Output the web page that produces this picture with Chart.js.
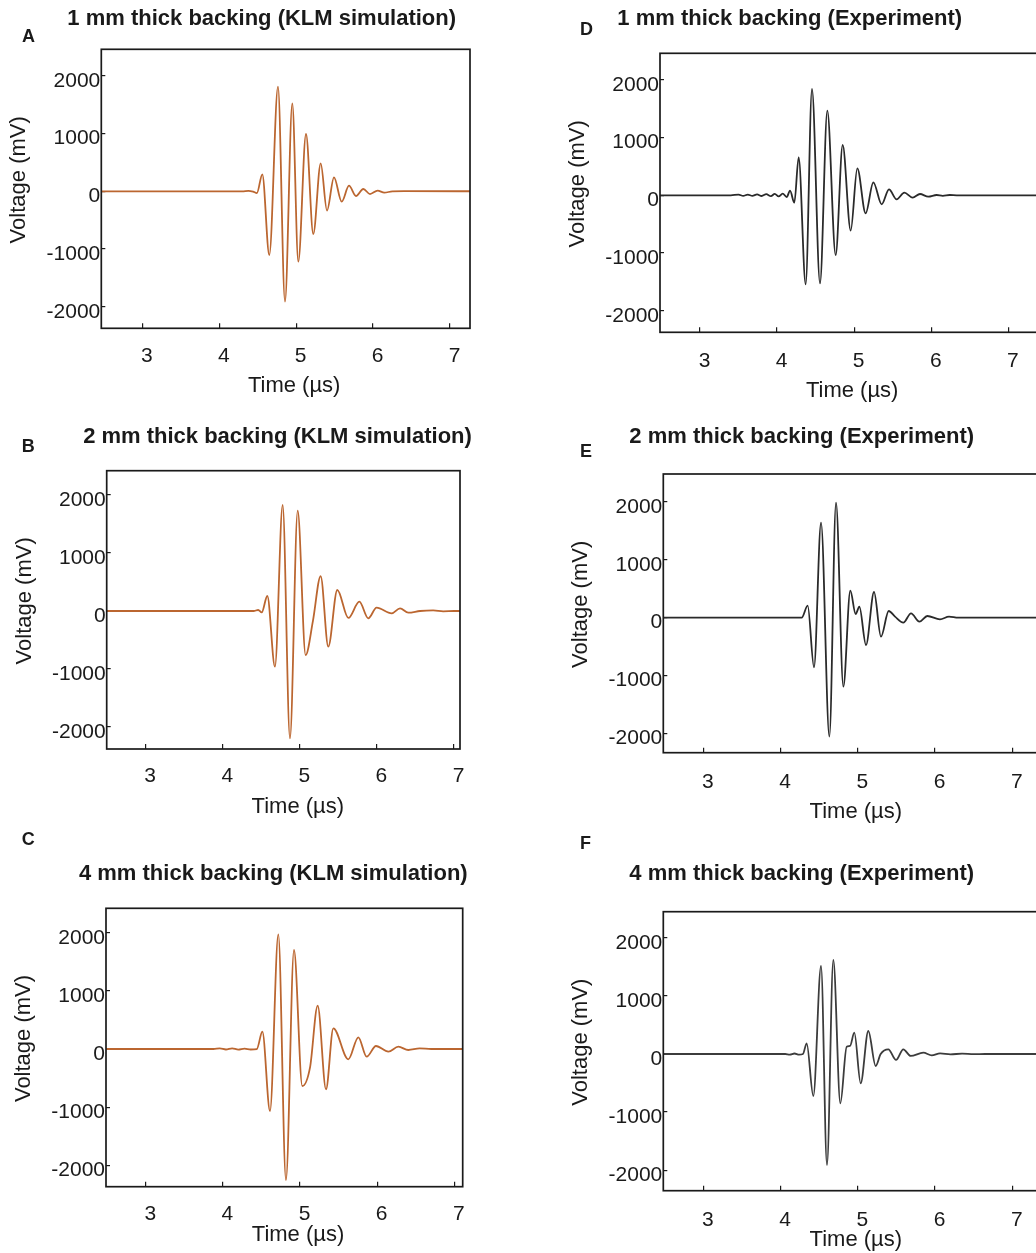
<!DOCTYPE html>
<html>
<head>
<meta charset="utf-8">
<title>Backing thickness pulse responses</title>
<script src="https://cdn.jsdelivr.net/npm/chart.js@4.4.1/dist/chart.umd.min.js"></script>
<style>
  html, body { margin: 0; padding: 0; background: #fff; overflow: hidden; }
  body { position: relative; width: 1036px; height: 1253px; }
  .panel { position: absolute; }
</style>
</head>
<body>
<div class="panel" style="left:0;top:0"><canvas id="panelA" width="520" height="410"></canvas></div>
<div class="panel" style="left:0;top:410px"><canvas id="panelB" width="520" height="420"></canvas></div>
<div class="panel" style="left:0;top:830px"><canvas id="panelC" width="520" height="423"></canvas></div>
<div class="panel" style="left:520px;top:0"><canvas id="panelD" width="540" height="410"></canvas></div>
<div class="panel" style="left:520px;top:410px"><canvas id="panelE" width="540" height="420"></canvas></div>
<div class="panel" style="left:520px;top:830px"><canvas id="panelF" width="540" height="423"></canvas></div>

<script>
const FONT = '"Liberation Sans", Arial, sans-serif';
const INK = '#1a1a1a';
const SIM_COLOR = '#bb6630';
const EXP_COLOR = '#2a2a2a';

const xTicks = [3, 4, 5, 6, 7];
const yTicks = [-2000, -1000, 0, 1000, 2000];

// KLM simulation, 1 mm backing (time in µs, voltage in mV)
const timeA = [2.3, 4.30, 4.38, 4.44, 4.49, 4.560, 4.651, 4.764, 4.855, 4.950, 5.028, 5.128, 5.223, 5.319, 5.401, 5.492, 5.592, 5.687, 5.778, 5.873, 5.960, 6.059, 6.146, 6.25, 6.40, 7.5];
const voltA = [0, 0, 8, -6, -30, 294, -1103, 1812, -1911, 1523, -1219, 992, -739, 484, -335, 242, -180, 97, -81, 40, -47, 11, -24, 0, 3, 0];

// KLM simulation, 2 mm backing
const timeB = [2.3, 4.40, 4.46, 4.505, 4.578, 4.677, 4.777, 4.872, 4.972, 5.075, 5.17, 5.270, 5.369, 5.486, 5.63, 5.772, 5.888, 5.996, 6.191, 6.30, 6.407, 6.56, 6.73, 6.86, 7.0, 7.5];
const voltB = [0, 0, 17, -25, 259, -960, 1828, -2195, 1730, -759, -170, 603, -615, 362, -120, 161, -126, 57, -40, 47, -29, 0, 10, -5, 0, 0];

// KLM simulation, 4 mm backing
const timeC = [2.3, 3.88, 3.96, 4.04, 4.12, 4.20, 4.28, 4.36, 4.44, 4.512, 4.611, 4.719, 4.818, 4.922, 5.030, 5.130, 5.229, 5.337, 5.432, 5.626, 5.756, 5.864, 5.985, 6.145, 6.275, 6.404, 6.55, 6.70, 7.5];
const voltC = [0, 0, 10, -8, 12, -10, 8, -8, 0, 298, -1067, 1974, -2255, 1704, -637, -316, 746, -694, 356, -178, 201, -132, 52, -46, 40, -17, 10, 0, 0];

// Measured, 1 mm backing
const timeD = [2.3, 3.40, 3.50, 3.56, 3.62, 3.68, 3.74, 3.80, 3.86, 3.92, 3.97, 4.02, 4.073, 4.125, 4.168, 4.224, 4.280, 4.371, 4.453, 4.557, 4.652, 4.760, 4.851, 4.955, 5.041, 5.149, 5.249, 5.357, 5.452, 5.551, 5.651, 5.759, 5.854, 5.962, 6.07, 6.15, 6.24, 6.33, 7.6];
const voltD = [0, 0, 12, -10, 12, -10, 15, -12, 20, -15, 25, -20, 30, -30, 80, -128, 657, -1542, 1841, -1524, 1465, -1034, 871, -612, 467, -312, 225, -156, 103, -70, 46, -41, 23, -24, 5, -10, 5, 0, 0];

// Measured, 2 mm backing
const timeE = [2.3, 4.273, 4.351, 4.433, 4.524, 4.632, 4.718, 4.813, 4.903, 4.972, 5.020, 5.106, 5.210, 5.300, 5.400, 5.482, 5.589, 5.689, 5.797, 5.900, 6.064, 6.181, 6.30, 7.6];
const voltE = [0, 0, 208, -857, 1641, -2055, 1987, -1191, 467, 64, 190, -472, 444, -328, 116, 18, -86, 75, -69, 29, -28, 18, 0, 0];

// Measured, 4 mm backing
const timeF = [2.3, 4.06, 4.12, 4.18, 4.24, 4.29, 4.338, 4.424, 4.524, 4.601, 4.683, 4.774, 4.856, 4.899, 4.955, 5.037, 5.136, 5.231, 5.296, 5.395, 5.495, 5.589, 5.684, 5.848, 5.957, 6.065, 6.20, 6.35, 6.50, 6.65, 7.6];
const voltF = [0, 0, -10, 8, -12, 0, 184, -723, 1515, -1910, 1618, -849, 126, 138, 367, -505, 396, -207, 0, 80, -103, 80, -34, 23, -23, 11, -5, 5, -4, 0, 0];

const panels = [
  { id: 'panelA', letter: 'A', title: '1 mm thick backing (KLM simulation)', time: timeA, volt: voltA, color: SIM_COLOR,
    origin: [0, 0], box: { left: 101.3, top: 49.3, right: 470, bottom: 328.3 },
    xRange: [2.467, 7.26], yRange: [-2372, 2459], letterAt: [22, 42], titleAt: [261.7, 25], tickPad: 20.6, xTitleDy: 64 },
  { id: 'panelB', letter: 'B', title: '2 mm thick backing (KLM simulation)', time: timeB, volt: voltB, color: SIM_COLOR,
    origin: [0, 410], box: { left: 106.7, top: 470.7, right: 460, bottom: 749 },
    xRange: [2.494, 7.078], yRange: [-2379, 2419], letterAt: [21.7, 451.5], titleAt: [277.5, 442.7], tickPad: 19.9, xTitleDy: 63.5 },
  { id: 'panelC', letter: 'C', title: '4 mm thick backing (KLM simulation)', time: timeC, volt: voltC, color: SIM_COLOR,
    origin: [0, 830], box: { left: 106, top: 908.3, right: 462.7, bottom: 1186.7 },
    xRange: [2.485, 7.109], yRange: [-2370, 2422], letterAt: [21.7, 845], titleAt: [273.3, 880], tickPad: 19.7, xTitleDy: 54 },
  { id: 'panelD', letter: 'D', title: '1 mm thick backing (Experiment)', time: timeD, volt: voltD, color: EXP_COLOR,
    origin: [520, 0], box: { left: 660, top: 53.3, right: 1050, bottom: 332.3 },
    xRange: [2.481, 7.541], yRange: [-2372, 2459], letterAt: [580, 35], titleAt: [789.7, 25], tickPad: 21.4, xTitleDy: 65 },
  { id: 'panelE', letter: 'E', title: '2 mm thick backing (Experiment)', time: timeE, volt: voltE, color: EXP_COLOR,
    origin: [520, 410], box: { left: 663.3, top: 474, right: 1050, bottom: 752.7 },
    xRange: [2.482, 7.488], yRange: [-2332, 2482], letterAt: [580, 456.5], titleAt: [801.7, 442.7], tickPad: 22.2, xTitleDy: 65 },
  { id: 'panelF', letter: 'F', title: '4 mm thick backing (Experiment)', time: timeF, volt: voltF, color: '#3c3c3c',
    origin: [520, 830], box: { left: 663.3, top: 911.7, right: 1050, bottom: 1190.7 },
    xRange: [2.482, 7.488], yRange: [-2353, 2449], letterAt: [580, 849], titleAt: [801.7, 880], tickPad: 21.7, xTitleDy: 55 }
];

function makePanel(p) {
  const canvas = document.getElementById(p.id);
  const ox = p.origin[0], oy = p.origin[1];
  const W = canvas.width, H = canvas.height;
  const yAxisWidth = p.box.left - ox;
  const xAxisHeight = oy + H - p.box.bottom;

  // frame, panel letter, heading and axis captions
  const decorations = {
    id: 'decorations_' + p.id,
    afterDraw(chart) {
      const ctx = chart.ctx;
      const area = chart.chartArea;
      ctx.save();
      ctx.strokeStyle = INK;
      ctx.lineWidth = 1.7;
      ctx.strokeRect(area.left, area.top, area.right - area.left, area.bottom - area.top);

      ctx.fillStyle = INK;
      ctx.textBaseline = 'alphabetic';
      ctx.textAlign = 'left';
      ctx.font = 'bold 18px ' + FONT;
      ctx.fillText(p.letter, p.letterAt[0] - ox, p.letterAt[1] - oy);

      ctx.textAlign = 'center';
      ctx.font = 'bold 22px ' + FONT;
      ctx.fillText(p.title, p.titleAt[0] - ox, p.titleAt[1] - oy);

      ctx.font = '22px ' + FONT;
      ctx.fillText('Time (µs)', chart.scales.x.getPixelForValue(5) - 2, area.bottom + p.xTitleDy);

      ctx.translate(area.left - 82, (area.top + area.bottom) / 2 - 9);
      ctx.rotate(-Math.PI / 2);
      ctx.textBaseline = 'middle';
      ctx.fillText('Voltage (mV)', 0, 0);
      ctx.restore();
    }
  };

  return new Chart(canvas, {
    type: 'line',
    data: {
      datasets: [{
        data: p.time.map((t, i) => ({ x: t, y: p.volt[i] })),
        borderColor: p.color,
        borderWidth: 1.8,
        pointRadius: 0,
        cubicInterpolationMode: 'monotone',
        fill: false
      }]
    },
    options: {
      responsive: false,
      animation: false,
      events: [],
      layout: { padding: { top: p.box.top - oy, right: ox + W - p.box.right, left: 0, bottom: 0 } },
      plugins: { legend: { display: false }, tooltip: { enabled: false } },
      scales: {
        x: {
          type: 'linear',
          min: p.xRange[0],
          max: p.xRange[1],
          afterBuildTicks: s => { s.ticks = xTicks.map(v => ({ value: v })); },
          afterFit: s => { s.height = xAxisHeight; },
          border: { display: false },
          grid: { drawOnChartArea: false, tickLength: -5, color: INK, lineWidth: 1.2 },
          ticks: {
            color: INK, font: { family: FONT, size: 21 }, padding: p.tickPad, labelOffset: 4.5,
            maxRotation: 0, autoSkip: false, callback: v => String(v)
          }
        },
        y: {
          type: 'linear',
          min: p.yRange[0],
          max: p.yRange[1],
          afterBuildTicks: s => { s.ticks = yTicks.map(v => ({ value: v })); },
          afterFit: s => { s.width = yAxisWidth; },
          border: { display: false },
          grid: { drawOnChartArea: false, tickLength: -4, color: INK, lineWidth: 1.2 },
          ticks: {
            color: INK, font: { family: FONT, size: 21 }, padding: 5, labelOffset: 5,
            autoSkip: false, callback: v => String(v)
          }
        }
      }
    },
    plugins: [decorations]
  });
}

panels.forEach(makePanel);
</script>
</body>
</html>
